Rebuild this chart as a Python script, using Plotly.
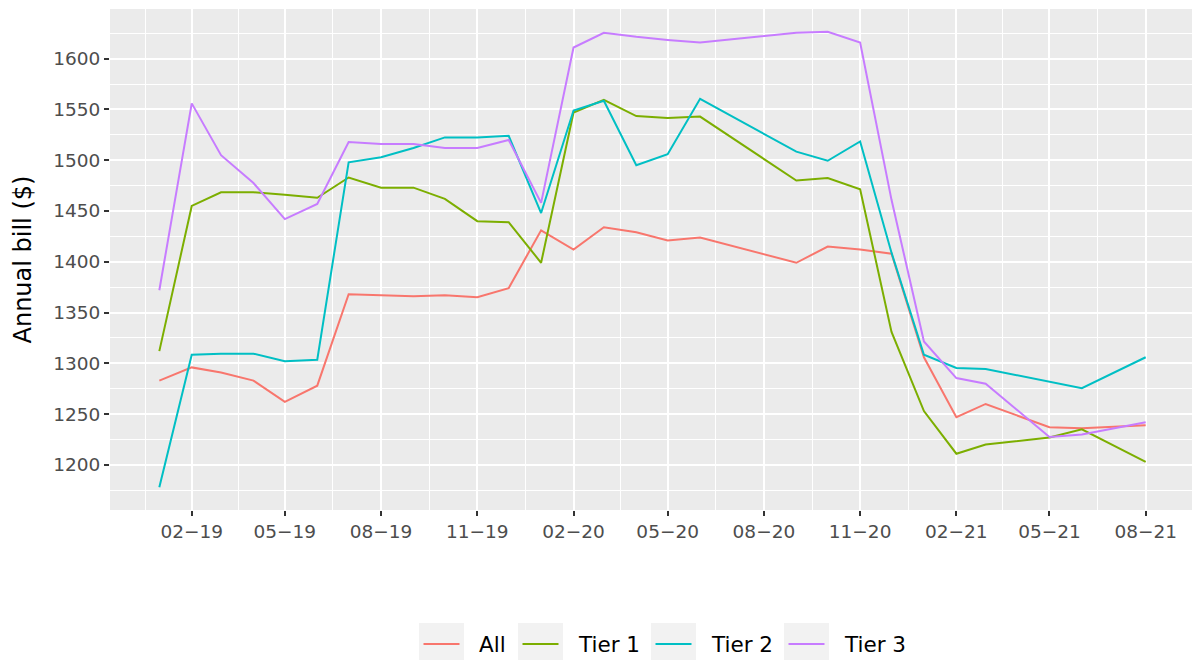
import plotly.graph_objects as go
import pandas as pd

dates = ["2019-01-01", "2019-02-01", "2019-03-01", "2019-04-01", "2019-05-01", "2019-06-01",
         "2019-07-01", "2019-08-01", "2019-09-01", "2019-10-01", "2019-11-01", "2019-12-01",
         "2020-01-01", "2020-02-01", "2020-03-01", "2020-04-01", "2020-05-01", "2020-06-01",
         "2020-09-01", "2020-10-01", "2020-11-01", "2020-12-01",
         "2021-01-01", "2021-02-01", "2021-03-01", "2021-05-01", "2021-06-01", "2021-08-01"]

all_bill = [1283, 1296, 1291, 1283, 1262, 1278, 1368, 1367, 1366, 1367, 1365, 1374,
            1431, 1412, 1434, 1429, 1421, 1424, 1399, 1415, 1412, 1408,
            1306, 1247, 1260, 1237, 1236, 1239]
tier1 = [1312, 1455, 1468.5, 1468.5, 1466, 1463, 1483, 1473, 1473, 1462, 1440, 1439,
         1399, 1547, 1559.5, 1543.5, 1541.5, 1543, 1480, 1482.5, 1471.5, 1331,
         1253, 1211, 1220, 1227, 1235, 1203]
tier2 = [1178, 1308.5, 1309.5, 1309.5, 1302, 1303.5, 1498, 1503, 1512, 1522.5, 1522.5, 1524,
         1448, 1549, 1558.5, 1495, 1506, 1560.5, 1508.5, 1499.5, 1518.5, 1409,
         1308.5, 1295.5, 1294.5, 1282, 1275.5, 1306]
tier3 = [1372, 1556, 1505, 1477.5, 1442, 1457, 1518, 1516, 1516, 1512, 1512, 1520,
         1458, 1611, 1625.5, 1621.5, 1618.5, 1616, 1625.5, 1626.5, 1616, 1461,
         1321.5, 1285.5, 1280, 1227.5, 1230, 1242]

series_names = ["All", "Tier 1", "Tier 2", "Tier 3"]
series_values = [all_bill, tier1, tier2, tier3]
colors = ["#F8766D", "#7CAE00", "#00BFC4", "#C77CFF"]

x_tick_dates = ["2019-02-01", "2019-05-01", "2019-08-01", "2019-11-01", "2020-02-01",
                "2020-05-01", "2020-08-01", "2020-11-01", "2021-02-01", "2021-05-01", "2021-08-01"]
x_tick_labels = ["02−19", "05−19", "08−19", "11−19", "02−20", "05−20", "08−20",
                 "11−20", "02−21", "05−21", "08−21"]
y_ticks = [1200, 1250, 1300, 1350, 1400, 1450, 1500, 1550, 1600]
y_minor = [1175, 1225, 1275, 1325, 1375, 1425, 1475, 1525, 1575, 1625]
y_title = "Annual bill ($)"

# layout in page pixels (the page body has an 8px margin)
OFF = 8
W, H = 1192, 655
ML, MR, MT, MB = 102, 5, 1, 153
PW, PH = W - ML - MR, H - MT - MB

def px_x(p):
    return (p - OFF - ML) / PW

def px_y(p):
    return (H - MB - (p - OFF)) / PH

# x range with ggplot-style 5% expansion
d = pd.to_datetime(dates)
span = d.max() - d.min()
x0 = d.min() - span * 0.05
x1 = d.max() + span * 0.05

# y range with 5% expansion
allv = [v for s in series_values for v in s]
ymin, ymax = min(allv), max(allv)
yr = ymax - ymin

# minor x gridlines at midpoints between major ticks (plus one on each side)
td = pd.to_datetime(x_tick_dates)
ext = [td[0] - (td[1] - td[0])] + list(td) + [td[-1] + (td[-1] - td[-2])]
x_minor = [ext[i] + (ext[i + 1] - ext[i]) / 2 for i in range(len(ext) - 1)]

fig = go.Figure()
for name, vals, col in zip(series_names, series_values, colors):
    fig.add_trace(go.Scatter(x=d, y=vals, mode="lines", name=name,
                             line=dict(color=col, width=2), showlegend=False))

font_family = "DejaVu Sans, Liberation Sans, Arial, sans-serif"

# custom ggplot-style legend (key boxes, key lines, labels)
key_left = [419, 518, 651, 784]
key_w, key_top, key_bot = 45, 623, 660
key_mid = 644
shapes, annots = [], []
for kx, name, col in zip(key_left, series_names, colors):
    shapes.append(dict(type="rect", xref="paper", yref="paper",
                       x0=px_x(kx), x1=px_x(kx + key_w), y0=px_y(key_bot), y1=px_y(key_top),
                       fillcolor="#F2F2F2", line=dict(width=0), layer="below"))
    shapes.append(dict(type="line", xref="paper", yref="paper",
                       x0=px_x(kx + 4.5), x1=px_x(kx + 40.5), y0=px_y(key_mid), y1=px_y(key_mid),
                       line=dict(color=col, width=2.2)))
    annots.append(dict(text=name, xref="paper", yref="paper", x=px_x(kx + key_w + 13),
                       y=px_y(key_mid), xanchor="left", yanchor="middle", showarrow=False,
                       font=dict(size=21.5, color="black", family=font_family)))

# y-axis title
annots.append(dict(text=y_title, xref="paper", yref="paper", x=px_x(22), y=0.5,
                   xanchor="center", yanchor="middle", textangle=-90, showarrow=False,
                   font=dict(size=24, color="black", family=font_family)))

fig.update_layout(
    width=W, height=H,
    margin=dict(l=ML, r=MR, t=MT, b=MB),
    paper_bgcolor="white",
    plot_bgcolor="#EBEBEB",
    font=dict(family=font_family, color="#4D4D4D"),
    showlegend=False,
    shapes=shapes,
    annotations=annots,
)
fig.update_xaxes(
    range=[x0, x1], tickmode="array", tickvals=pd.to_datetime(x_tick_dates), ticktext=x_tick_labels,
    showgrid=True, gridcolor="white", gridwidth=2,
    minor=dict(tickmode="array", tickvals=x_minor, showgrid=True, gridcolor="white", gridwidth=1, ticks=""),
    ticks="outside", ticklen=5, tickcolor="#333333", tickwidth=1.5,
    tickfont=dict(size=18.5, color="#4D4D4D"), zeroline=False, showline=False, automargin=False,
)
fig.update_yaxes(
    range=[ymin - 0.05 * yr, ymax + 0.05 * yr], tickmode="array", tickvals=y_ticks,
    showgrid=True, gridcolor="white", gridwidth=2,
    minor=dict(tickmode="array", tickvals=y_minor, showgrid=True, gridcolor="white", gridwidth=1, ticks=""),
    ticks="outside", ticklen=5, tickcolor="#333333", tickwidth=1.5,
    tickfont=dict(size=18.5, color="#4D4D4D"), zeroline=False, showline=False, automargin=False,
)
fig.write_html("out.html")
